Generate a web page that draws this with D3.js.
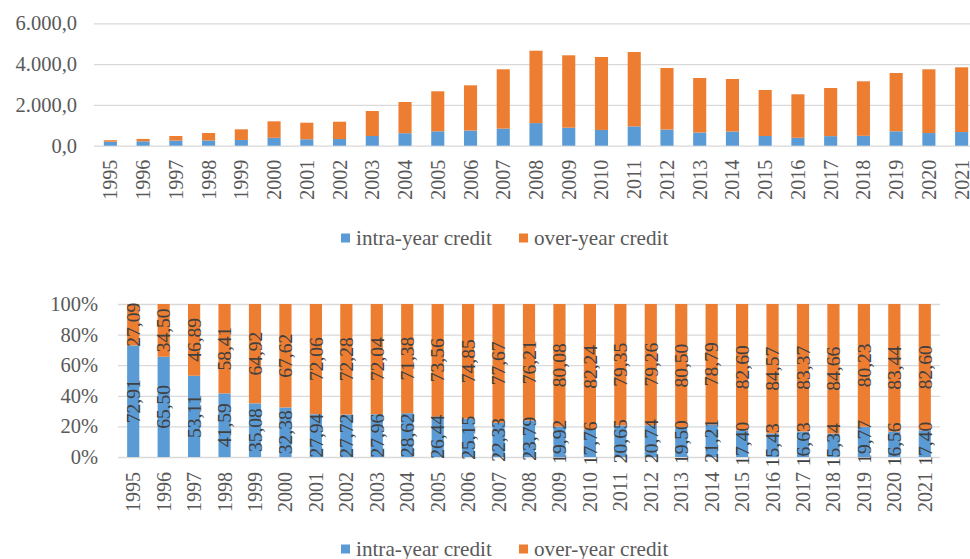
<!DOCTYPE html>
<html>
<head>
<meta charset="utf-8">
<script src="https://cdn.jsdelivr.net/npm/d3@7/dist/d3.min.js"></script>
<style>
  html, body { margin: 0; padding: 0; background: #fff; }
  svg { display: block; }
  svg text { font-family: "Liberation Serif", "Times New Roman", "DejaVu Serif", serif !important; }
</style>
</head>
<body>
<svg id="chart" width="970" height="559"></svg>
<script>
// Credit volumes by year (absolute) and their shares (%)
const years = ["1995","1996","1997","1998","1999","2000","2001","2002","2003","2004","2005","2006","2007","2008","2009","2010","2011","2012","2013","2014","2015","2016","2017","2018","2019","2020","2021"];
const intraYear = [197, 216, 252, 259, 282, 387, 315, 326, 475, 613, 705, 744, 836, 1108, 883, 772, 948, 790, 647, 694, 475, 389, 470, 484, 705, 620, 669];
const overYear  = [73, 114, 223, 363, 521, 808, 812, 850, 1225, 1529, 1962, 2216, 2909, 3549, 3548, 3576, 3645, 3019, 2672, 2576, 2255, 2131, 2358, 2673, 2859, 3125, 3174];
const intraShare = [72.91, 65.50, 53.11, 41.59, 35.08, 32.38, 27.94, 27.72, 27.96, 28.62, 26.44, 25.15, 22.33, 23.79, 19.92, 17.76, 20.65, 20.74, 19.50, 21.21, 17.40, 15.43, 16.63, 15.34, 19.77, 16.56, 17.40];
const overShare  = [27.09, 34.50, 46.89, 58.41, 64.92, 67.62, 72.06, 72.28, 72.04, 71.38, 73.56, 74.85, 77.67, 76.21, 80.08, 82.24, 79.35, 79.26, 80.50, 78.79, 82.60, 84.57, 83.37, 84.66, 80.23, 83.44, 82.60];
const volumeTicks = [0, 2000, 4000, 6000];
const shareTicks = [0, 20, 40, 60, 80, 100];
const seriesNames = ["intra-year credit", "over-year credit"];

const colors = ["#5B9BD5", "#ED7D31"];
const gridColor = "#D9D9D9";
const textColor = "#595959";
const labelColor = "#404040";
const serif = "'Liberation Serif', 'Times New Roman', 'DejaVu Serif', serif";

const locale = d3.formatLocale({ decimal: ",", thousands: ".", grouping: [3], currency: ["", ""] });
const fmtVolume = locale.format(",.1f");
const fmtShare = locale.format(".2f");

const svg = d3.select("#chart").attr("font-family", serif);

function stackRows(a, b) {
  return years.map((y, i) => ({ year: y, segs: [[0, a[i]], [a[i], a[i] + b[i]]], vals: [a[i], b[i]] }));
}

function drawPanel(opts) {
  const g = svg.append("g");
  const x = d3.scaleBand().domain(years).range(opts.xRange).paddingInner(0.6).paddingOuter(0.3);
  const y = d3.scaleLinear().domain(opts.yDomain).range(opts.yRange);

  // gridlines
  const grid = d3.axisLeft(y).tickValues(opts.ticks).tickSize(-(opts.gridEnd - opts.xRange[0])).tickFormat("");
  const gg = g.append("g").attr("transform", `translate(${opts.xRange[0]},0)`).call(grid);
  gg.select(".domain").remove();
  gg.selectAll("line").attr("stroke", gridColor).attr("stroke-width", 1.3);

  // y tick labels
  const ya = d3.axisLeft(y).tickValues(opts.ticks).tickSize(0).tickPadding(0).tickFormat(opts.fmt);
  const yg = g.append("g").attr("transform", `translate(${opts.yLabelX},0)`).call(ya);
  yg.attr("font-family", serif).attr("font-size", 20.5);
  yg.select(".domain").remove();
  yg.selectAll("text").attr("fill", textColor);

  // stacked bars
  const rows = stackRows(opts.a, opts.b);
  const bars = g.append("g");
  rows.forEach(r => {
    r.segs.forEach((s, k) => {
      bars.append("rect")
        .attr("x", x(r.year))
        .attr("width", x.bandwidth())
        .attr("y", y(s[1]))
        .attr("height", y(s[0]) - y(s[1]))
        .attr("fill", colors[k]);
    });
  });

  // x tick labels
  const xa = d3.axisBottom(x).tickSize(0).tickPadding(0);
  const xg = g.append("g").attr("transform", `translate(0,${opts.yRange[0]})`).call(xa);
  xg.attr("font-family", serif).attr("font-size", 20);
  xg.select(".domain").remove();
  xg.selectAll("text")
    .attr("fill", textColor)
    .attr("text-anchor", "end")
    .attr("dy", "0.35em")
    .attr("transform", `translate(0,${opts.xLabelGap}) rotate(-90)`)
    .attr("y", 0).attr("x", 0);

  // value labels
  if (opts.labels) {
    rows.forEach(r => {
      r.segs.forEach((s, k) => {
        const cx = x(r.year) + x.bandwidth() / 2;
        const cy = (y(s[0]) + y(s[1])) / 2;
        g.append("text")
          .attr("transform", `translate(${cx},${cy}) rotate(-90)`)
          .attr("text-anchor", "middle")
          .attr("dy", "0.35em")
          .attr("fill", labelColor)
          .attr("font-size", 19.5)
          .text(fmtShare(r.vals[k]));
      });
    });
  }

  // legend
  const lg = g.append("g");
  opts.legendX.forEach((lx, k) => {
    lg.append("rect").attr("x", lx).attr("y", opts.legendY - 11.5).attr("width", 9).attr("height", 9).attr("fill", colors[k]);
    lg.append("text").attr("x", lx + 15).attr("y", opts.legendY)
      .attr("fill", textColor).attr("font-size", 21.2).text(seriesNames[k]);
  });
}

// absolute volumes
drawPanel({
  a: intraYear, b: overYear,
  xRange: [94, 978], gridEnd: 970,
  yDomain: [0, 6000], yRange: [145.7, 23.3],
  ticks: volumeTicks, fmt: fmtVolume, yLabelX: 77,
  xLabelGap: 14, labels: false,
  legendX: [341, 519], legendY: 245
});

// shares
drawPanel({
  a: intraShare, b: overShare,
  xRange: [118, 940], gridEnd: 940,
  yDomain: [0, 100], yRange: [457, 304],
  ticks: shareTicks, fmt: d => d + "%", yLabelX: 98,
  xLabelGap: 15, labels: true,
  legendX: [341, 519], legendY: 556
});
</script>
</body>
</html>
